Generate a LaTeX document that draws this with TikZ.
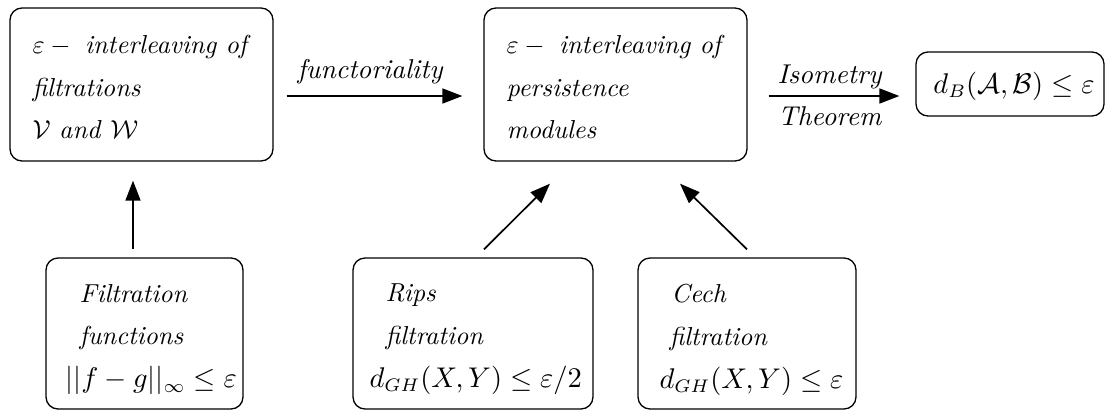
\documentclass[tikz,border=0pt]{standalone}
\usetikzlibrary{arrows.meta}
\newcommand{\mathline}[1]{{\fontsize{10.5}{16.5}\selectfont$#1$}}
\newcommand{\biglabel}[1]{\scalebox{2.72}{\textit{#1}}}
\begin{document}
\begin{tikzpicture}[x=1pt,y=-1pt,
  every node/.style={font=\fontsize{10}{16.5}\selectfont},
  box/.style={draw, line width=1.3pt, rounded corners=12pt, inner sep=0pt},
  txt/.style={anchor=west, align=left, inner sep=0pt, scale=2.6},
  lbl/.style={inner sep=0pt, midway, xshift=-4pt},
  arr/.style={draw=black, line width=1.7pt, -{Triangle[length=20pt,width=15pt]}}]
\useasboundingbox (0,0) rectangle (1105,410);
\clip (0,0) rectangle (1105,410);

% top row
\node[box, minimum width=263pt, minimum height=153pt] (b1) at (141.5,84.5) {};
\node[txt] (t1) at (32,87)
  {$\varepsilon-{}$ \textit{interleaving of}\\ \textit{filtrations}\\ $\mathcal{V}$ \textit{and} $\mathcal{W}$};
\node[box, minimum width=263pt, minimum height=153pt] (b2) at (615.5,84.5) {};
\node[txt] (t2) at (506,87)
  {$\varepsilon-{}$ \textit{interleaving of}\\ \textit{persistence}\\ \textit{modules}};
\node[box, minimum width=188pt, minimum height=64pt] (b3) at (1010,84) {};
\node[inner sep=0pt, scale=2.6] (t3) at (1014,86) {\mathline{d_B(\mathcal{A},\mathcal{B})\leq\varepsilon}};

% bottom row
\node[box, minimum width=197pt, minimum height=151pt] (b4) at (144.5,333.5) {};
\node[txt] (t4) at (65,339.5)
  {\hspace*{5.4pt}\textit{Filtration}\\ \hspace*{5.4pt}\textit{functions}\\ \mathline{||f-g||_\infty\leq\varepsilon}};
\node[box, minimum width=240pt, minimum height=151pt] (b5) at (473,333.5) {};
\node[txt] (t5) at (369,339.5)
  {\hspace*{6.2pt}\textit{Rips}\\ \hspace*{6.2pt}\textit{filtration}\\ \mathline{d_{GH}(X,Y)\leq\varepsilon/2}};
\node[box, minimum width=218pt, minimum height=151pt] (b6) at (747,333.5) {};
\node[txt] (t6) at (659,339.5)
  {\hspace*{4.6pt}\textit{Cech}\\ \hspace*{3.9pt}\textit{filtration}\\ \mathline{d_{GH}(X,Y)\leq\varepsilon}};

% connectors
\draw[arr] ([xshift=13pt,yshift=-11.5pt]b1.east) -- ([xshift=-21pt,yshift=-11.5pt]b2.west)
  node[lbl, yshift=24pt] (lf) {\biglabel{functoriality}};
\draw[arr] ([xshift=21pt,yshift=-11.5pt]b2.east) -- ([xshift=-16pt,yshift=-12pt]b3.west)
  node[lbl, yshift=19pt] (li) {\biglabel{Isometry}}
  node[lbl, yshift=-20pt] (lt) {\biglabel{Theorem}};
\draw[arr] ([xshift=-11.5pt,yshift=8pt]b4.north) -- ([xshift=-8.5pt,yshift=-19pt]b1.south);
\draw[arr] ([xshift=11pt,yshift=8pt]b5.north) -- ([xshift=-65.5pt,yshift=-22pt]b2.south);
\draw[arr] ([yshift=8pt]b6.north) -- ([xshift=64.5pt,yshift=-22pt]b2.south);
\end{tikzpicture}
\end{document}
